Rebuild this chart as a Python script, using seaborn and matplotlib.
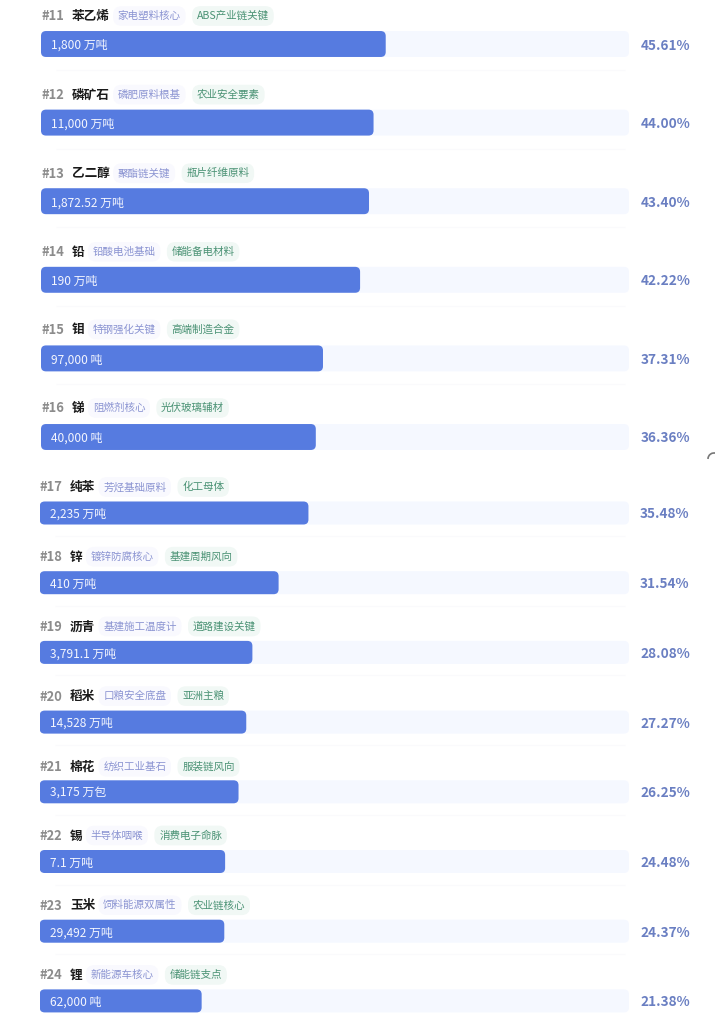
import matplotlib
matplotlib.use('Agg')
import matplotlib.pyplot as plt
import pandas as pd
import seaborn as sns
from matplotlib.patches import Arc, FancyBboxPatch
from matplotlib.transforms import IdentityTransform, blended_transform_factory

# Values
ranks = ['#11', '#12', '#13', '#14', '#15', '#16', '#17', '#18', '#19', '#20', '#21', '#22', '#23', '#24']
names = ['苯乙烯', '磷矿石', '乙二醇', '铅', '钼', '锑', '纯苯', '锌', '沥青', '稻米', '棉花', '锡', '玉米', '锂']
tags_a = ['家电塑料核心', '磷肥原料根基', '聚酯链关键', '铅酸电池基础', '特钢强化关键', '阻燃剂核心',
          '芳烃基础原料', '镀锌防腐核心', '基建施工温度计', '口粮安全底盘', '纺织工业基石', '半导体咽喉',
          '饲料能源双属性', '新能源车核心']
tags_b = ['ABS产业链关键', '农业安全要素', '瓶片纤维原料', '储能备电材料', '高端制造合金', '光伏玻璃辅材',
          '化工母体', '基建周期风向', '道路建设关键', '亚洲主粮', '服装链风向', '消费电子命脉',
          '农业链核心', '储能链支点']
amounts = ['1,800 万吨', '11,000 万吨', '1,872.52 万吨', '190 万吨', '97,000 吨', '40,000 吨',
           '2,235 万吨', '410 万吨', '3,791.1 万吨', '14,528 万吨', '3,175 万包', '7.1 万吨',
           '29,492 万吨', '62,000 吨']
shares = [45.61, 44.00, 43.40, 42.22, 37.31, 36.36, 35.48, 31.54, 28.08, 27.27, 26.25, 24.48, 24.37, 21.38]

sns.set_theme(style='white')
plt.rcParams['font.family'] = ['Noto Sans CJK SC', 'DejaVu Sans']

BAR = '#567be0'
TRACK = '#f5f8ff'
FULL = 77.8
W, H = 715, 1030

df = pd.DataFrame({'rank': ranks, 'name': names, 'tag_a': tags_a, 'tag_b': tags_b,
                   'amount': amounts, 'share': shares})
df['track'] = FULL

fig = plt.figure(figsize=(W / 100, H / 100), dpi=100)
fig.patch.set_facecolor('white')


def rounded(ax, n_skip=0, radius_px=5, px_x=7.56, px_y=78.6):
    # swap the square seaborn bars for rounded ones of the same size
    for p in list(ax.patches)[n_skip:]:
        x, y, w, h = p.get_x(), p.get_y(), p.get_width(), p.get_height()
        col = p.get_facecolor()
        z = p.get_zorder()
        p.remove()
        r = radius_px / px_x
        ax.add_patch(FancyBboxPatch((x, y), w, h, boxstyle=f'round,pad=0,rounding_size={r}',
                                    mutation_aspect=(radius_px / px_y) / r, fc=col, ec='none', zorder=z))


def section(sub, left, top, bottom, step, label_gaps, rank_x, name_x, pct_x):
    ax = fig.add_axes([left / W, 1 - bottom / H, (629 - left) / W, (bottom - top) / H])
    sub = sub.reset_index(drop=True)
    sns.barplot(data=sub, x='track', y='name', color=TRACK, saturation=1, width=0.33, ax=ax, zorder=1)
    rounded(ax, px_y=step)
    n_track = len(ax.patches)
    sns.barplot(data=sub, x='share', y='name', color=BAR, saturation=1, width=0.33, ax=ax, zorder=2)
    rounded(ax, n_skip=n_track, px_y=step)
    ax.set_xlim(0, FULL)
    ax.set_ylim((bottom - top) / step - 0.5, -0.5)
    ax.axis('off')

    trans = blended_transform_factory(IdentityTransform(), ax.transData)
    rend = fig.canvas.get_renderer()
    for i, row in sub.iterrows():
        if i < len(sub) - 1:
            ax.hlines(i + 0.33, 2, FULL - 0.5, color='#fafafc', lw=1, zorder=0)
        ax.text(1.3, i, row['amount'], color='#f4f6fe', fontsize=8.6, va='center_baseline', zorder=3)
        ax.text(pct_x, i, f"{row['share']:.2f}%", transform=trans, color='#6a7fc2', fontsize=9.8,
                fontweight='bold', va='center_baseline')
        y = i - label_gaps[i] / step
        ax.text(rank_x, y, row['rank'], transform=trans, color='#8c8c8c', fontsize=9.3,
                fontweight='bold', va='center_baseline')
        t = ax.text(name_x, y, row['name'], transform=trans, color='#1a1a1a', fontsize=9.1,
                    fontweight='bold', va='center_baseline')
        x = t.get_window_extent(rend).x1 + 8
        t = ax.text(x, y, row['tag_a'], transform=trans, color='#8b94d2', fontsize=7.6, va='center_baseline',
                    bbox=dict(boxstyle='round,pad=0.45,rounding_size=0.8', fc='#f9f9fe', ec='none'))
        x = t.get_window_extent(rend).x1 + 16
        ax.text(x, y, row['tag_b'], transform=trans, color='#4a9274', fontsize=7.6, va='center_baseline',
                bbox=dict(boxstyle='round,pad=0.45,rounding_size=0.8', fc='#f1f8f5', ec='none'))
    return ax


section(df.iloc[:6], 41, 4.7, 476.3, 78.6, [29, 29, 29, 29, 30, 30], 41, 72, 641)
section(df.iloc[6:], 39.7, 478.15, H, 69.7, [27, 27, 27, 27, 26, 27, 27, 27], 40, 70, 640)

# bit of a loading spinner cut off at the right edge
spin = fig.add_axes([0, 0, 1, 1], facecolor='none')
spin.set_xlim(0, W)
spin.set_ylim(H, 0)
spin.axis('off')
spin.add_patch(Arc((714, 459), 12, 12, theta1=180, theta2=290, color='#777777', lw=1.2))

fig.savefig('out.png', dpi=100)
plt.close(fig)
